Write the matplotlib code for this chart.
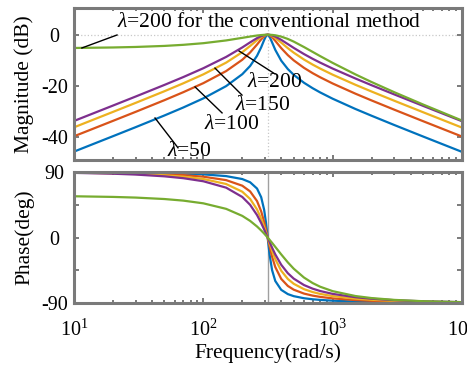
import matplotlib
matplotlib.use("Agg")
import matplotlib.pyplot as plt
from matplotlib.ticker import LogLocator, NullFormatter, FixedLocator

plt.rcParams["font.family"] = ["Liberation Serif", "DejaVu Serif"]
plt.rcParams["mathtext.fontset"] = "custom"
plt.rcParams["mathtext.rm"] = "Liberation Serif"
plt.rcParams["mathtext.it"] = "Liberation Serif:italic"
plt.rcParams["axes.unicode_minus"] = False

# frecuencias (rad/s) y respuesta de cada filtro
w0 = 314.16
freq = [10, 20, 30, 50, 70, 100, 150, 200, 230, 260, 280, 295, 305, 314.16, 325,
        340, 360, 400, 450, 500, 600, 700, 800, 1000, 1500, 2000, 3000, 5000, 10000]

mag_50 = [-45.90, -39.85, -36.29, -31.71, -28.57, -24.99, -20.18, -15.50, -12.27, -8.28,
          -4.92, -2.11, -0.56, 0.0, -0.73, -2.99, -5.96, -10.17, -13.48, -15.76,
          -18.86, -21.00, -22.65, -25.13, -29.16, -31.82, -35.47, -39.97, -46.01]
mag_100 = [-39.88, -33.83, -30.27, -25.70, -22.56, -19.01, -14.28, -9.83, -6.96, -3.86,
           -1.83, -0.63, -0.15, 0.0, -0.19, -0.96, -2.40, -5.25, -8.01, -10.07,
           -13.00, -15.09, -16.70, -19.15, -23.15, -25.81, -29.45, -33.95, -39.99]
mag_150 = [-36.36, -30.31, -26.75, -22.19, -19.07, -15.56, -10.96, -6.84, -4.41, -2.14,
           -0.91, -0.29, -0.07, 0.0, -0.09, -0.45, -1.23, -3.10, -5.27, -7.05,
           -9.74, -11.73, -13.29, -15.69, -19.66, -22.31, -25.94, -30.43, -36.47]
mag_200 = [-33.86, -27.82, -24.26, -19.71, -16.62, -13.15, -8.72, -4.99, -2.99, -1.33,
           -0.54, -0.17, -0.04, 0.0, -0.05, -0.26, -0.73, -2.01, -3.67, -5.17,
           -7.59, -9.45, -10.95, -13.29, -17.19, -19.83, -23.45, -27.93, -33.97]
mag_conv = [-5.20, -5.00, -4.80, -4.39, -3.96, -3.32, -2.24, -1.22, -0.71, -0.31,
            -0.13, -0.04, -0.01, 0.0, -0.01, -0.07, -0.22, -0.73, -1.65, -2.70,
            -4.83, -6.74, -8.39, -11.06, -15.58, -18.58, -22.59, -27.40, -33.70]

ph_50 = [89.71, 89.42, 89.12, 88.51, 87.86, 86.77, 84.38, 80.33, 75.90, 67.31,
         55.41, 38.35, 20.41, 0.0, -23.08, -44.83, -59.79, -71.93, -77.77, -80.62,
         -83.45, -84.89, -85.77, -86.83, -88.00, -88.53, -89.03, -89.42, -89.71]
ph_100 = [89.42, 88.83, 88.24, 87.02, 85.73, 83.57, 78.86, 71.19, 63.33, 50.10,
          35.94, 21.59, 10.54, 0.0, -12.02, -26.43, -40.63, -56.88, -66.56, -71.71,
          -77.07, -79.86, -81.59, -83.67, -86.01, -87.07, -88.07, -88.85, -89.43]
ph_150 = [89.13, 88.25, 87.36, 85.54, 83.61, 80.40, 73.54, 62.93, 52.99, 38.56,
          25.78, 14.78, 7.07, 0.0, -8.08, -18.32, -29.77, -45.63, -56.97, -63.63,
          -70.99, -74.98, -77.50, -80.56, -84.03, -85.60, -87.11, -88.27, -89.14]
ph_200 = [88.84, 87.67, 86.49, 84.07, 81.51, 77.29, 68.51, 55.72, 44.87, 30.88,
          19.93, 11.19, 5.31, 0.0, -6.08, -13.96, -23.23, -37.46, -49.06, -56.53,
          -65.34, -70.31, -73.53, -77.49, -82.06, -84.14, -86.14, -87.70, -88.85]
ph_conv = [56.67, 55.78, 54.86, 52.87, 50.68, 46.96, 39.38, 29.72, 22.82, 15.15,
           9.69, 5.47, 2.62, 0.0, -3.10, -7.36, -12.91, -23.23, -34.18, -42.90,
           -55.02, -62.61, -67.63, -73.74, -80.43, -83.23, -85.74, -87.56, -88.82]

series = [
    (mag_50, ph_50, "#0072BD"),
    (mag_100, ph_100, "#D95319"),
    (mag_150, ph_150, "#EDB120"),
    (mag_200, ph_200, "#7E2F8E"),
    (mag_conv, ph_conv, "#77AC30"),
]

# etiquetas: texto, posicion del texto, linea guia (x1, y1, x2, y2)
etiquetas = [
    (r"$\lambda$=200 for the conventional method", (21.5, 5.0), "left", (11.5, -5.2, 21.5, -0.1)),
    (r"$\lambda$=200", (355, -18.9), "center", (189, -6.4, 358, -15.4)),
    (r"$\lambda$=150", (287, -27.6), "center", (123, -13.1, 199, -23.7)),
    (r"$\lambda$=100", (167, -35.4), "center", (86.3, -20.5, 139.5, -30.7)),
    (r"$\lambda$=50", (78.2, -46.0), "center", (42.3, -32.7, 63.7, -44.4)),
]

gris = "#7a7a7a"
fs = 15.5

fig = plt.figure(figsize=(4.67, 3.67), dpi=100)
ax1 = fig.add_axes([0.1585, 0.5640, 0.8308, 0.4142])
ax2 = fig.add_axes([0.1585, 0.1744, 0.8308, 0.3569])

for mag, ph, color in series:
    ax1.semilogx(freq, mag, color=color, lw=1.6)
    ax2.semilogx(freq, ph, color=color, lw=1.6)

ax1.axhline(0, color="#c8c8c8", ls=":", lw=0.9, zorder=0)
ax1.axvline(w0, color="#c8c8c8", ls=":", lw=0.9, zorder=0)
ax2.axvline(w0, color="#a0a0a0", lw=1.0, zorder=0)

for texto, (tx, ty), ha, (x1, y1, x2, y2) in etiquetas:
    ax1.plot([x1, x2], [y1, y2], color="black", lw=1.0, clip_on=False, zorder=5)
    ax1.text(tx, ty, texto, ha=ha, va="center", fontsize=fs, zorder=6, clip_on=False)

ax1.set_ylim(-49.2, 10.5)
ax2.set_ylim(-90, 90)
ax1.yaxis.set_major_locator(FixedLocator([-40, -20, 0]))
ax2.yaxis.set_major_locator(FixedLocator([-90, -45, 0, 45, 90]))
ax2.set_yticklabels(["-90", "", "0", "", "90"])

for ax in (ax1, ax2):
    ax.set_xlim(10, 1e4)
    ax.xaxis.set_major_locator(LogLocator(base=10, numticks=10))
    ax.xaxis.set_minor_locator(LogLocator(base=10, subs=range(2, 10), numticks=20))
    ax.xaxis.set_minor_formatter(NullFormatter())
    for s in ax.spines.values():
        s.set_color(gris)
        s.set_linewidth(2.2)
    ax.tick_params(which="both", direction="in", top=True, right=True, color=gris,
                   width=1.4, labelsize=fs - 1)
    ax.tick_params(which="major", length=3.5)
    ax.tick_params(which="minor", length=2.5)
    ax.tick_params(axis="y", pad=14)
    for lab in ax.get_yticklabels():
        lab.set_horizontalalignment("center")

ax1.tick_params(axis="x", labelbottom=False)
ax2.tick_params(axis="x", pad=12)

ax1.set_ylabel("Magnitude (dB)", fontsize=fs)
ax2.set_ylabel("Phase(deg)", fontsize=fs)
ax1.yaxis.set_label_coords(-0.103, 0.5)
ax2.yaxis.set_label_coords(-0.103, 0.5)
ax2.set_xlabel("Frequency(rad/s)", fontsize=fs, labelpad=2)

fig.savefig("out.png", dpi=100)
